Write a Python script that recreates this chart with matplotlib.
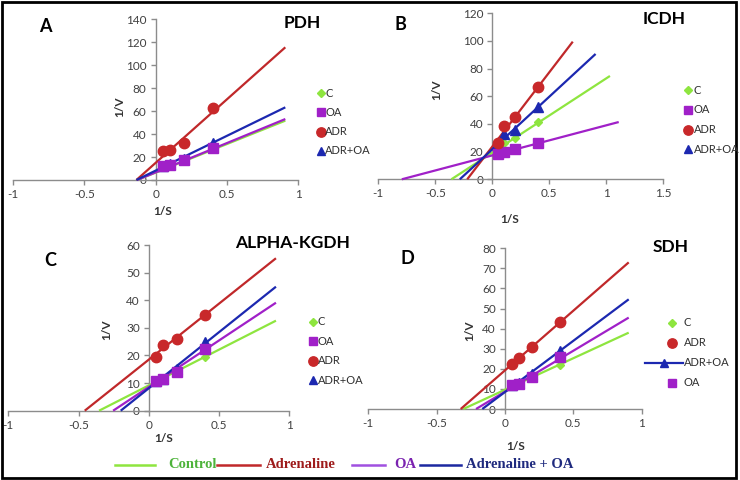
import matplotlib
matplotlib.use("Agg")
import matplotlib.pyplot as plt
from matplotlib.lines import Line2D
from matplotlib.patches import Rectangle

plt.rcParams['font.family'] = ['Lato', 'DejaVu Sans']

# ---------------- data ----------------
inv_s = [0.05, 0.1, 0.2, 0.4]

# Panel A - PDH
pdh_c = [12.4, 13.3, 17.0, 28.0]
pdh_oa = [12.4, 13.3, 17.4, 28.3]
pdh_adr = [25.6, 26.0, 32.5, 63.0]
pdh_adr_oa = [12.5, 13.8, 18.5, 32.5]
# trend lines: (x at 1/V = 0, x end, 1/V at end)
pdh_lines = {'C': (-0.13, 0.909, 51.7), 'OA': (-0.13, 0.909, 53.1),
             'ADR': (-0.135, 0.909, 115.6), 'ADR+OA': (-0.135, 0.909, 63.3)}

# Panel B - ICDH
icdh_c = [23.6, 26.0, 30.0, 41.7]
icdh_oa = [18.3, 20.0, 21.7, 26.5]
icdh_adr = [26.5, 38.3, 45.3, 66.5]
icdh_adr_oa = [26.0, 33.0, 35.5, 52.5]
icdh_lines = {'C': (-0.359, 1.032, 74.7), 'OA': (-0.794, 1.109, 41.4),
              'ADR': (-0.22, 0.706, 99.5), 'ADR+OA': (-0.285, 0.906, 90.6)}

# Panel C - ALPHA-KGDH
kgdh_c = [10.7, 11.3, 14.7, 19.6]
kgdh_oa = [10.7, 11.6, 14.1, 22.3]
kgdh_adr = [19.6, 23.9, 25.8, 34.5]
kgdh_adr_oa = [10.9, 11.3, 15.0, 25.0]
kgdh_lines = {'C': (-0.354, 0.905, 32.6), 'OA': (-0.254, 0.905, 39.1),
              'ADR': (-0.456, 0.905, 55.2), 'ADR+OA': (-0.2, 0.905, 44.9)}

# Panel D - SDH
sdh_c = [11.8, 12.8, 16.9, 21.7]
sdh_oa = [11.8, 12.4, 15.7, 25.7]
sdh_adr = [22.4, 25.6, 31.0, 43.5]
sdh_adr_oa = [11.8, 12.8, 17.4, 29.0]
sdh_lines = {'C': (-0.305, 0.905, 38.0), 'OA': (-0.212, 0.905, 45.5),
             'ADR': (-0.324, 0.905, 73.0), 'ADR+OA': (-0.166, 0.905, 54.6)}

xticks_ab = [-1, -0.5, 0, 0.5, 1]
xticks_b = [-1, -0.5, 0, 0.5, 1, 1.5]
xtick_labels_ab = ['-1', '-0.5', '0', '0.5', '1']
xtick_labels_b = ['-1', '-0.5', '0', '0.5', '1', '1.5']

legend_a = ['C', 'OA', 'ADR', 'ADR+OA']
legend_d = ['C', 'ADR', 'ADR+OA', 'OA']
bottom_labels = ['Control', 'Adrenaline', 'OA', 'Adrenaline + OA']

# ---------------- style ----------------
line_col = {'C': '#8EE53F', 'OA': '#A020C8', 'ADR': '#C0282A', 'ADR+OA': '#1C28B0'}
mk_col = {'C': '#8EE53F', 'OA': '#A020C8', 'ADR': '#C8282A', 'ADR+OA': '#1C28B0'}
mk = {'C': ('D', 4.3), 'OA': ('s', 6.5), 'ADR': ('o', 7.5), 'ADR+OA': ('^', 7)}

W, H = 740, 480
fig = plt.figure(figsize=(7.4, 4.8), dpi=100)

def fx(px):
    return px / W

def fy(py):
    return 1 - py / H

panels = [
    dict(rect=(13, 180, 298.3, 19.3), xlim=(-1, 1), ylim=(0, 140), yticks=list(range(0, 141, 20)),
         xt=xticks_ab, xtl=xtick_labels_ab,
         data={'C': pdh_c, 'OA': pdh_oa, 'ADR': pdh_adr, 'ADR+OA': pdh_adr_oa}, lines=pdh_lines,
         vlab=(0.375, 0.455), slab=(0.526, -0.193),
         letter=('A', 45, 27), title=('PDH', 302, 23),
         leg=legend_a, leg_pos=(321, 325, 93.3, 19.1), leg_line=False),
    dict(rect=(378.3, 179.3, 663.3, 13.3), xlim=(-1, 1.5), ylim=(0, 120), yticks=list(range(0, 121, 20)),
         xt=xticks_b, xtl=xtick_labels_b,
         data={'C': icdh_c, 'OA': icdh_oa, 'ADR': icdh_adr, 'ADR+OA': icdh_adr_oa}, lines=icdh_lines,
         vlab=(0.205, 0.538), slab=(0.459, -0.24),
         letter=('B', 400, 25), title=('ICDH', 664, 19.5),
         leg=legend_a, leg_pos=(688, 694, 90, 19.8), leg_line=False),
    dict(rect=(8.3, 410.7, 289.3, 245), xlim=(-1, 1), ylim=(0, 60), yticks=list(range(0, 61, 10)),
         xt=xticks_ab, xtl=xtick_labels_ab,
         data={'C': kgdh_c, 'OA': kgdh_oa, 'ADR': kgdh_adr, 'ADR+OA': kgdh_adr_oa}, lines=kgdh_lines,
         vlab=(0.35, 0.487), slab=(0.551, -0.165),
         letter=('C', 50, 260), title=('ALPHA-KGDH', 293, 243),
         leg=legend_a, leg_pos=(312.7, 318, 321.7, 19.5), leg_line=False),
    dict(rect=(368.3, 409, 641.7, 248.3), xlim=(-1, 1), ylim=(0, 80), yticks=list(range(0, 81, 10)),
         xt=xticks_ab, xtl=xtick_labels_ab,
         data={'C': sdh_c, 'OA': sdh_oa, 'ADR': sdh_adr, 'ADR+OA': sdh_adr_oa}, lines=sdh_lines,
         vlab=(0.372, 0.49), slab=(0.54, -0.236),
         letter=('D', 407, 258), title=('SDH', 671, 247),
         leg=legend_d, leg_pos=(671.7, 684, 322.7, 20.0), leg_line=True),
]

axis_gray = '#8C8C8C'
tick_txt = '#404040'

for p in panels:
    x0, y0, x1, y1 = p['rect']
    ax = fig.add_axes([fx(x0), fy(y0), (x1 - x0) / W, (y0 - y1) / H])
    ax.set_xlim(*p['xlim'])
    ax.set_ylim(*p['ylim'])
    ax.patch.set_alpha(0)
    for s in ('top', 'right'):
        ax.spines[s].set_visible(False)
    ax.spines['left'].set_position(('data', 0))
    ax.spines['bottom'].set_position(('data', 0))
    for s in ('left', 'bottom'):
        ax.spines[s].set_color(axis_gray)
        ax.spines[s].set_linewidth(1.0)
    ax.set_xticks(p['xt'])
    ax.set_xticklabels(p['xtl'])
    ax.set_yticks(p['yticks'])
    ax.tick_params(axis='both', direction='out', length=3.5, width=1.0, color=axis_gray,
                   labelcolor=tick_txt, labelsize=8.5, pad=3)
    # trend lines
    for k in ('C', 'OA', 'ADR', 'ADR+OA'):
        xs, xe, ye = p['lines'][k]
        ax.plot([xs, xe], [0, ye], color=line_col[k], lw=1.6, zorder=3, clip_on=False,
                solid_capstyle='butt')
    # markers
    for k in ('C', 'ADR+OA', 'OA', 'ADR'):
        m, ms = mk[k]
        ax.plot(inv_s, p['data'][k], linestyle='none', marker=m, ms=ms, color=mk_col[k],
                mec=mk_col[k], zorder=4, clip_on=False)
    ax.text(p['vlab'][0], p['vlab'][1], '1/V', transform=ax.transAxes, rotation=90,
            ha='center', va='center', fontsize=8.5, fontweight='bold', color='#333333')
    ax.text(p['slab'][0], p['slab'][1], '1/S', transform=ax.transAxes,
            ha='center', va='center', fontsize=8.5, fontweight='bold', color='#333333')
    # letter & title
    L, lx, ly = p['letter']
    fig.text(fx(lx), fy(ly), L, ha='center', va='center', fontsize=13, fontweight='bold', color='black')
    T, tx, ty = p['title']
    fig.text(fx(tx), fy(ty), T, ha='center', va='center', fontsize=12.5, fontweight='bold', color='black')
    # panel legend
    mx, tx0, ry, dy = p['leg_pos']
    for i, k in enumerate(p['leg']):
        yy = fy(ry + i * dy)
        m, ms = mk[k]
        if p['leg_line'] and k == 'ADR+OA':
            fig.add_artist(Line2D([fx(mx - 27), fx(mx + 11)], [yy, yy], color=line_col[k], lw=1.6,
                                  transform=fig.transFigure))
            fig.add_artist(Line2D([fx(mx - 8)], [yy], marker=m, ms=ms * 0.8, color=mk_col[k],
                                  transform=fig.transFigure, linestyle='none'))
        else:
            fig.add_artist(Line2D([fx(mx)], [yy], marker=m, ms=ms * 0.9, color=mk_col[k],
                                  transform=fig.transFigure, linestyle='none'))
        fig.text(fx(tx0), yy, k, ha='left', va='center', fontsize=8, color='#303030')

# bottom legend
bl_line = ['#8EE53F', '#C0282A', '#A050E0', '#1C28A0']
bl_text = ['#4DB33A', '#9E1B1B', '#7A22B0', '#1F2A7E']
bl_line_x = [(115, 155), (217, 260), (352, 385), (420, 461)]
bl_text_x = [168, 266, 394, 466]
by = fy(465)
for lab, lc, tc, (a, b), tx in zip(bottom_labels, bl_line, bl_text, bl_line_x, bl_text_x):
    fig.add_artist(Line2D([fx(a), fx(b)], [by, by], color=lc, lw=1.8, transform=fig.transFigure))
    fig.text(fx(tx), by, lab, ha='left', va='center', fontsize=10.5, fontweight='bold',
             family=['Liberation Serif', 'DejaVu Serif'], color=tc)

# outer frame
fig.add_artist(Rectangle((fx(2), fy(478)), (736 - 2) / W, (478 - 2) / H, fill=False,
                         edgecolor='black', lw=2.0, transform=fig.transFigure))

fig.savefig('out.png', dpi=100)
